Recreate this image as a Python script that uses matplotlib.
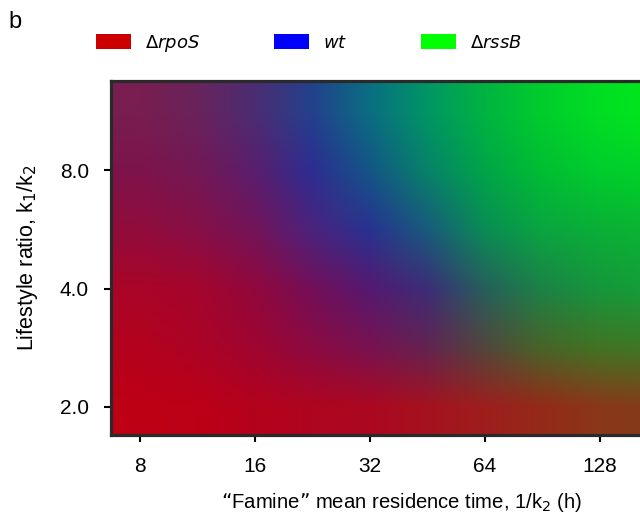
import numpy as np
import matplotlib.pyplot as plt
from matplotlib.patches import Patch

plt.rcParams['font.family'] = ['Liberation Sans', 'DejaVu Sans']

# sample points (centres of the colour grid)
residence_time = [8, 11.3, 16, 22.6, 32, 45.3, 64, 90.5, 128, 181, 256]
lifestyle_ratio = [2, 2.83, 4, 5.66, 8, 11.3]

# colour of each mixture (0-255), rows follow lifestyle_ratio
red = [
    [190, 188, 180, 175, 172, 165, 158, 148, 138, 130, 125],
    [180, 172, 160, 140, 120, 100, 82, 72, 66, 62, 60],
    [170, 165, 145, 115, 85, 60, 38, 28, 22, 20, 20],
    [145, 135, 115, 75, 40, 25, 10, 10, 10, 10, 10],
    [125, 115, 90, 45, 20, 8, 0, 0, 0, 0, 0],
    [120, 105, 75, 35, 10, 0, 0, 0, 0, 0, 0],
]
green = [
    [0, 0, 2, 5, 8, 18, 30, 42, 55, 60, 65],
    [2, 3, 5, 10, 18, 35, 70, 100, 115, 120, 125],
    [5, 5, 8, 15, 25, 45, 95, 130, 150, 160, 165],
    [12, 15, 20, 35, 50, 90, 140, 165, 175, 182, 185],
    [20, 24, 30, 45, 85, 130, 165, 190, 205, 212, 218],
    [30, 35, 45, 65, 110, 150, 180, 205, 222, 232, 236],
]
blue = [
    [20, 22, 28, 32, 32, 30, 28, 25, 25, 25, 25],
    [30, 38, 48, 65, 80, 80, 60, 40, 35, 35, 35],
    [40, 45, 60, 88, 112, 120, 92, 70, 60, 55, 52],
    [60, 70, 90, 125, 145, 125, 85, 65, 55, 50, 48],
    [75, 85, 110, 145, 135, 105, 72, 50, 45, 38, 32],
    [80, 92, 115, 140, 130, 100, 65, 45, 35, 28, 25],
]

labels = [r'$\Delta rpoS$', r'$wt$', r'$\Delta rssB$']
colors = ['#cc0000', '#0000ff', '#00ff00']

img = np.dstack([red, green, blue]).astype(float) / 255.0
lx = np.log2(residence_time)
ly = np.log2(lifestyle_ratio)

fig = plt.figure(figsize=(6.4, 5.27), dpi=100)
x0, x1, y0, y1 = 111, 693, 81, 435
ax = fig.add_axes([x0 / 640, 1 - y1 / 527, (x1 - x0) / 640, (y1 - y0) / 527])

ax.imshow(img, origin='lower', aspect='auto', interpolation='bilinear',
          extent=[lx[0] - 0.25, lx[-1] + 0.25, ly[0] - 0.25, ly[-1] + 0.25])
ax.set_xlim(3 - (140 - x0) / 115, 3 + (x1 - 140) / 115)
ax.set_ylim(1 - (y1 - 407) / 118.5, 3 + (170 - y0) / 118.5)

xt = [8, 16, 32, 64, 128]
yt = [2.0, 4.0, 8.0]
ax.set_xticks(np.log2(xt))
ax.set_xticklabels([str(v) for v in xt])
ax.set_yticks(np.log2(yt))
ax.set_yticklabels(['%.1f' % v for v in yt])

for s in ax.spines.values():
    s.set_linewidth(2.3)
    s.set_color('#2a2a2a')
ax.tick_params(direction='out', length=5, width=1.5, labelsize=15, pad=11,
               top=False, right=False)

ax.set_xlabel('\u201cFamine\u201d mean residence time, 1/k$_2$ (h)', fontsize=14.6)
ax.set_ylabel('Lifestyle ratio, k$_1$/k$_2$', fontsize=15.5)
ax.xaxis.set_label_coords((402 - x0) / (x1 - x0), (y1 - 491) / (y1 - y0))
ax.yaxis.set_label_coords((40 - x0) / (x1 - x0), 0.5)

handles = [Patch(facecolor=c, edgecolor='none') for c in colors]
fig.legend(handles, labels, loc='center left', bbox_to_anchor=(96 / 640, 1 - 43 / 527),
           ncol=3, frameon=False, fontsize=13, handlelength=1.94, handleheight=0.95,
           handletextpad=0.78, columnspacing=4.08, borderpad=0, borderaxespad=0)

fig.text(8 / 640, 1 - 22 / 527, 'b', fontsize=17, va='center', ha='left')

fig.savefig('out.png', dpi=100)
